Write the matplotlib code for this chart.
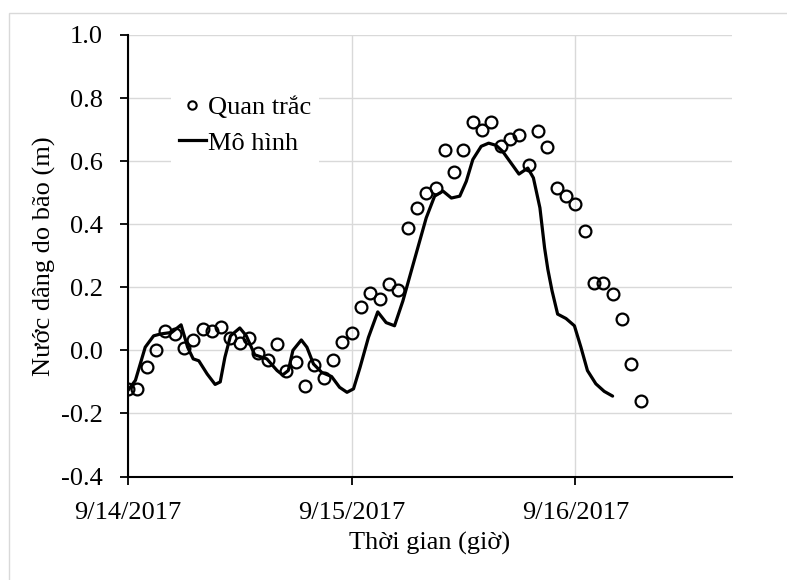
import matplotlib
matplotlib.use("Agg")
import matplotlib.pyplot as plt
from matplotlib.lines import Line2D
from matplotlib.patches import Rectangle
import pandas as pd

plt.rcParams['font.family'] = ['Liberation Serif', 'DejaVu Serif']

# observed surge (m), hourly from 9/14/2017 00:00
obs_values = [-0.122, -0.122, -0.054, 0.001, 0.061, 0.053, 0.008, 0.032, 0.069, 0.061,
              0.073, 0.038, 0.023, 0.038, -0.008, -0.029, 0.021, -0.064, -0.038, -0.114,
              -0.047, -0.088, -0.029, 0.027, 0.056, 0.136, 0.183, 0.162, 0.210, 0.192,
              0.388, 0.450, 0.500, 0.516, 0.636, 0.565, 0.634, 0.725, 0.700, 0.725,
              0.649, 0.670, 0.684, 0.589, 0.695, 0.646, 0.516, 0.489, 0.464, 0.377,
              0.214, 0.214, 0.180, 0.099, -0.044, -0.159]

# model curve: hours since 9/14/2017 00:00 and surge (m)
model_hours = [0.0, 0.8, 1.85, 2.75, 3.5, 4.7, 5.7, 6.4, 7.0, 7.6, 8.5, 9.35, 9.9, 10.4,
               11.0, 12.0, 12.7, 13.6, 14.9, 16.0, 16.6, 17.2, 17.7, 18.6, 19.2, 19.9,
               20.8, 21.85, 22.7, 23.5, 24.2, 24.9, 25.8, 26.8, 27.7, 28.6, 29.5, 30.6,
               32.0, 32.9, 33.8, 34.7, 35.6, 36.3, 37.0, 37.9, 38.7, 39.5, 40.2, 41.1,
               41.95, 42.9, 43.5, 44.2, 44.7, 45.05, 45.5, 46.1, 47.0, 47.9, 48.6, 49.3,
               50.2, 51.1, 52.0]
model_values = [-0.127, -0.095, 0.01, 0.046, 0.052, 0.057, 0.081, 0.01, -0.027, -0.033,
                -0.075, -0.108, -0.10, -0.022, 0.046, 0.071, 0.046, -0.014, -0.027, -0.064,
                -0.078, -0.064, 0.0, 0.033, 0.01, -0.043, -0.07, -0.083, -0.117, -0.133,
                -0.122, -0.054, 0.041, 0.122, 0.088, 0.078, 0.157, 0.273, 0.42, 0.489,
                0.505, 0.483, 0.489, 0.536, 0.605, 0.647, 0.657, 0.65, 0.631, 0.594,
                0.559, 0.578, 0.547, 0.452, 0.325, 0.257, 0.189, 0.115, 0.101, 0.078,
                0.01, -0.064, -0.106, -0.13, -0.145]

start = pd.Timestamp('2017-09-14')
obs_time = pd.date_range(start, periods=len(obs_values), freq='h')
model_time = [start + pd.Timedelta(hours=h) for h in model_hours]

fig = plt.figure(figsize=(7.87, 5.8), dpi=100)
ax = fig.add_axes([0.1626, 0.1784, 0.7674, 0.7613])

# chart border (top and left edges visible)
fig.patches.append(Rectangle((9 / 787, -0.05), 1.2, 1 - 13 / 580 + 0.05,
                             transform=fig.transFigure, fill=False,
                             edgecolor='#d9d9d9', linewidth=1.0))

ax.plot(model_time, model_values, color='black', linewidth=2.3, zorder=3,
        solid_joinstyle='round', solid_capstyle='round')
ax.plot(obs_time, obs_values, linestyle='none', marker='o', markersize=8.5,
        markerfacecolor='none', markeredgecolor='black', markeredgewidth=1.6, zorder=4)

ax.set_ylim(-0.4, 1.0)
ax.set_yticks([-0.4, -0.2, 0.0, 0.2, 0.4, 0.6, 0.8, 1.0])
ax.set_yticklabels(['-0.4', '-0.2', '0.0', '0.2', '0.4', '0.6', '0.8', '1.0'])
ax.set_xlim(start, start + pd.Timedelta(hours=2.7 * 24))
xticks = [start, start + pd.Timedelta(days=1), start + pd.Timedelta(days=2)]
ax.set_xticks(xticks)
ax.set_xticklabels(['9/14/2017', '9/15/2017', '9/16/2017'])

ax.grid(True, color='#d9d9d9', linewidth=1.0, zorder=0)
ax.set_axisbelow(True)
for s in ['top', 'right']:
    ax.spines[s].set_visible(False)
for s in ['left', 'bottom']:
    ax.spines[s].set_linewidth(1.5)
ax.tick_params(direction='out', length=6, width=1.3, labelsize=19)
ax.tick_params(axis='x', pad=12)
ax.tick_params(axis='y', pad=12)

ax.set_xlabel('Thời gian (giờ)', fontsize=19, labelpad=6)
ax.set_ylabel('Nước dâng do bão (m)', fontsize=19, labelpad=4)

handles = [Line2D([], [], linestyle='none', marker='o', markersize=6,
                  markerfacecolor='none', markeredgecolor='black', markeredgewidth=1.5),
           Line2D([], [], color='black', linewidth=2.3)]
leg = ax.legend(handles, ['Quan trắc', 'Mô hình'], loc='upper left',
                bbox_to_anchor=(0.05, 0.91), fontsize=19, frameon=True,
                handlelength=1.0, handletextpad=0.1, labelspacing=0.45,
                borderpad=0.3, fancybox=False)
leg.get_frame().set_edgecolor('none')
leg.get_frame().set_facecolor('white')
leg.get_frame().set_alpha(1.0)

fig.savefig('out.png', dpi=100)
